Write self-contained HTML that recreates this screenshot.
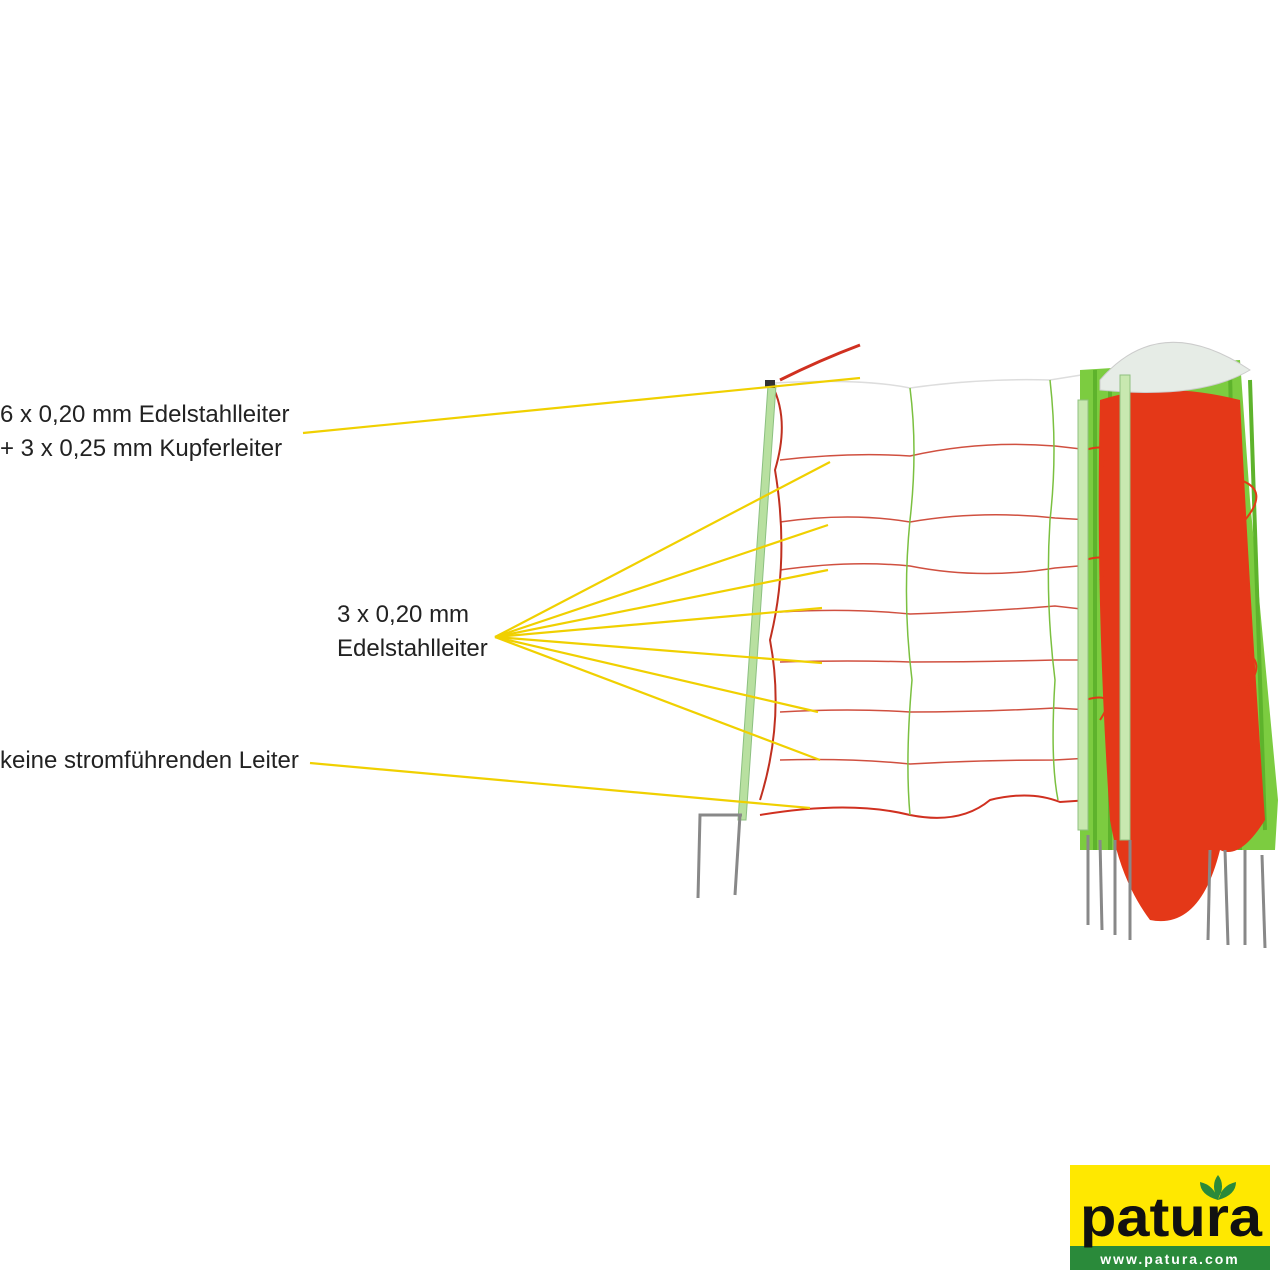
<!DOCTYPE html>
<html><head><meta charset="utf-8"><style>
html,body{margin:0;padding:0;background:#fff;width:1280px;height:1280px;overflow:hidden}
.t{position:absolute;font-family:"Liberation Sans",sans-serif;font-size:24px;color:#222;line-height:34px;white-space:nowrap}
</style></head><body>
<svg width="1280" height="1280" style="position:absolute;left:0;top:0">
<g fill="none" stroke-width="1.5">
<path d="M775 383 Q860 378 910 388 Q980 378 1050 380 L1100 372" stroke="#ddd"/>
<path d="M780 460 Q850 452 910 456 Q980 440 1055 446 L1090 450" stroke="#d05040"/>
<path d="M780 522 Q850 512 910 522 Q980 510 1055 518 L1090 520" stroke="#d05040"/>
<path d="M780 570 Q850 560 910 566 Q980 580 1055 568 L1090 565" stroke="#d05040"/>
<path d="M780 612 Q850 608 910 614 Q980 612 1055 606 L1090 610" stroke="#d05040"/>
<path d="M780 662 Q850 660 910 662 Q980 662 1055 660 L1090 660" stroke="#d05040"/>
<path d="M780 712 Q850 708 910 712 Q980 712 1055 708 L1090 710" stroke="#d05040"/>
<path d="M780 760 Q850 758 910 764 Q980 760 1055 760 L1090 758" stroke="#d05040"/>
<path d="M760 815 Q850 800 910 815 Q960 825 990 800 Q1030 790 1060 802 L1090 800" stroke="#d03020" stroke-width="2"/>
<path d="M910 388 Q918 450 910 520 Q902 600 912 680 Q905 760 910 815" stroke="#7bc040"/>
<path d="M1050 380 Q1058 450 1050 520 Q1045 600 1055 680 Q1050 760 1058 800" stroke="#7bc040"/>
<path d="M772 385 Q790 420 775 470 Q790 560 770 640 Q785 720 760 800" stroke="#c03020" stroke-width="2"/>
<path d="M780 380 Q820 360 860 345" stroke="#d03020" stroke-width="3"/>
</g>
<path d="M768 385 L776 385 L746 820 L738 820 Z" fill="#b8e0a0" stroke="#8cc080"/>
<rect x="765" y="380" width="10" height="8" fill="#333"/>
<path d="M740 815 L735 895 M742 815 L700 815 L698 898" stroke="#888" stroke-width="3" fill="none"/>
<path d="M1080 370 L1240 360 L1250 500 L1278 800 L1275 850 L1080 850 Z" fill="#7ccc40"/>
<g stroke="#5eb32c" stroke-width="4">
<line x1="1095" y1="370" x2="1095" y2="850"/><line x1="1110" y1="370" x2="1110" y2="850"/>
<line x1="1230" y1="370" x2="1240" y2="850"/><line x1="1250" y1="380" x2="1265" y2="830"/>
</g>
<path d="M1100 400 Q1160 380 1240 400 Q1250 600 1265 820 Q1240 860 1220 850 Q1200 930 1150 920 Q1120 880 1110 820 Q1095 600 1100 400 Z" fill="#e43818"/>
<g stroke="#e43818" stroke-width="2" fill="none">
<path d="M1085 450 Q1120 440 1100 470 M1085 560 Q1120 550 1100 580 M1085 700 Q1120 690 1100 720 M1240 480 Q1270 490 1245 520 M1240 650 Q1270 660 1245 690"/>
</g>
<path d="M1100 380 Q1160 310 1250 370 Q1200 400 1100 390 Z" fill="#e6ece6" stroke="#ccc"/>
<rect x="1120" y="375" width="10" height="465" fill="#c8e8b0" stroke="#90c080"/>
<rect x="1078" y="400" width="10" height="430" fill="#c8e8b0" stroke="#90c080"/>
<g stroke="#888" stroke-width="3">
<line x1="1088" y1="835" x2="1088" y2="925"/><line x1="1100" y1="840" x2="1102" y2="930"/><line x1="1115" y1="840" x2="1115" y2="935"/><line x1="1130" y1="840" x2="1130" y2="940"/>
<line x1="1210" y1="850" x2="1208" y2="940"/><line x1="1225" y1="850" x2="1228" y2="945"/><line x1="1245" y1="850" x2="1245" y2="945"/><line x1="1262" y1="855" x2="1265" y2="948"/>
</g>
<g stroke="#f0d000" stroke-width="2.2">
<line x1="303" y1="433" x2="860" y2="378"/>
<line x1="495" y1="637" x2="830" y2="462"/>
<line x1="495" y1="637" x2="828" y2="525"/>
<line x1="495" y1="637" x2="828" y2="570"/>
<line x1="495" y1="637" x2="822" y2="608"/>
<line x1="495" y1="637" x2="822" y2="663"/>
<line x1="495" y1="637" x2="818" y2="712"/>
<line x1="495" y1="637" x2="820" y2="760"/>
<line x1="310" y1="763" x2="810" y2="808"/>
</g>
<rect x="1070" y="1165" width="200" height="105" fill="#ffe800"/>
<rect x="1070" y="1246" width="200" height="24" fill="#2a8a3a"/>
<text x="1080" y="1236" font-family="Liberation Sans,sans-serif" font-weight="bold" font-size="56" fill="#111" textLength="182" lengthAdjust="spacingAndGlyphs">patura</text>
<text x="1170" y="1264" text-anchor="middle" font-family="Liberation Sans,sans-serif" font-weight="bold" font-size="14" fill="#fff" letter-spacing="2">www.patura.com</text>
<path d="M1218 1200 Q1210 1185 1218 1175 Q1226 1185 1218 1200 Z M1218 1200 Q1200 1195 1200 1182 Q1214 1185 1218 1200 Z M1218 1200 Q1236 1195 1236 1182 Q1222 1185 1218 1200 Z" fill="#2a8a3a"/>
</svg>
<div class="t" style="left:0;top:398px">6 x 0,20 mm Edelstahlleiter<br>+ 3 x 0,25 mm Kupferleiter</div>
<div class="t" style="left:337px;top:598px">3 x 0,20 mm<br>Edelstahlleiter</div>
<div class="t" style="left:0;top:744px">keine stromführenden Leiter</div>
</body></html>
